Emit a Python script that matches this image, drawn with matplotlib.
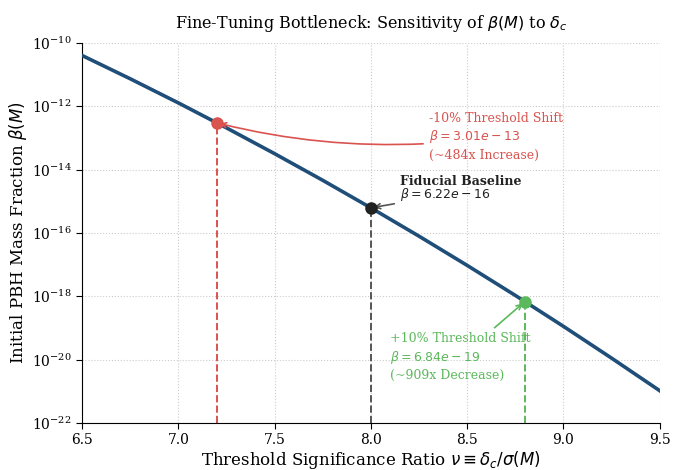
import numpy as np
import matplotlib
matplotlib.use('Agg')
import matplotlib.pyplot as plt

# threshold ratio nu and mass fraction beta
nu = [6.5, 6.75, 7.0, 7.25, 7.5, 7.75, 8.0, 8.25, 8.5, 8.75, 9.0, 9.25, 9.5]
beta = [4.02e-11, 7.39e-12, 1.28e-12, 2.08e-13, 3.19e-14, 4.60e-15, 6.22e-16,
        7.92e-17, 9.48e-18, 1.07e-18, 1.13e-19, 1.12e-20, 1.05e-21]

# highlighted points: -10%, baseline, +10%
pt_nu = [7.2, 8.0, 8.8]
pt_beta = [3.01e-13, 6.22e-16, 6.84e-19]
pt_colors = ['#d9534f', '#222222', '#5cb85c']
line_colors = ['#d9534f', '#555555', '#5cb85c']

plt.rcParams['font.family'] = 'DejaVu Serif'

fig = plt.figure(figsize=(6.85, 4.7), dpi=100)
ax = fig.add_axes([0.12, 0.10, 0.843, 0.8085])

ax.plot(nu, beta, color='#1f4e79', linewidth=2.6, zorder=3)

for x, y, lc in zip(pt_nu, pt_beta, line_colors):
    ax.vlines(x, 1e-22, y, colors=lc, linestyles='--', linewidth=1.4, zorder=2)
for x, y, c in zip(pt_nu, pt_beta, pt_colors):
    ax.plot(x, y, 'o', color=c, markersize=8, zorder=4)

ax.annotate('-10% Threshold Shift\n$\\beta = 3.01e-13$\n(~484x Increase)',
            xy=(pt_nu[0], pt_beta[0]), xytext=(8.3, 1.1e-13),
            ha='left', va='center', color='#d9534f', fontsize=9,
            linespacing=1.3,
            arrowprops=dict(arrowstyle='->', color='#d9534f', lw=1.2,
                            connectionstyle='arc3,rad=-0.1'))

ax.annotate('$\\beta = 6.22e-16$',
            xy=(pt_nu[1], pt_beta[1]), xytext=(8.15, 1.6e-15),
            ha='left', va='center', color='#222222', fontsize=9,
            arrowprops=dict(arrowstyle='->', color='#555555', lw=1.2))
ax.text(8.15, 4.3e-15, 'Fiducial Baseline', ha='left', va='center',
        color='#222222', fontsize=9, fontweight='bold')

ax.annotate('+10% Threshold Shift\n$\\beta = 6.84e-19$\n(~909x Decrease)',
            xy=(pt_nu[2], pt_beta[2]), xytext=(8.1, 1.2e-20),
            ha='left', va='center', color='#5cb85c', fontsize=9,
            linespacing=1.3,
            arrowprops=dict(arrowstyle='->', color='#5cb85c', lw=1.2))

ax.set_yscale('log')
ax.set_xlim(6.5, 9.5)
ax.set_ylim(1e-22, 1e-10)
ax.set_yticks([1e-22, 1e-20, 1e-18, 1e-16, 1e-14, 1e-12, 1e-10])
ax.minorticks_off()
ax.tick_params(labelsize=10, direction='out', length=4)
ax.grid(True, color='#cccccc', linestyle=':', linewidth=0.8)
ax.spines['top'].set_visible(False)
ax.spines['right'].set_visible(False)

ax.set_xlabel('Threshold Significance Ratio $\\nu \\equiv \\delta_c/\\sigma(M)$', fontsize=12, labelpad=1)
ax.set_ylabel('Initial PBH Mass Fraction $\\beta(M)$', fontsize=12, labelpad=2)
ax.set_title('Fine-Tuning Bottleneck: Sensitivity of $\\beta(M)$ to $\\delta_c$', fontsize=11.5, pad=11)

plt.savefig('out.png', dpi=100)
